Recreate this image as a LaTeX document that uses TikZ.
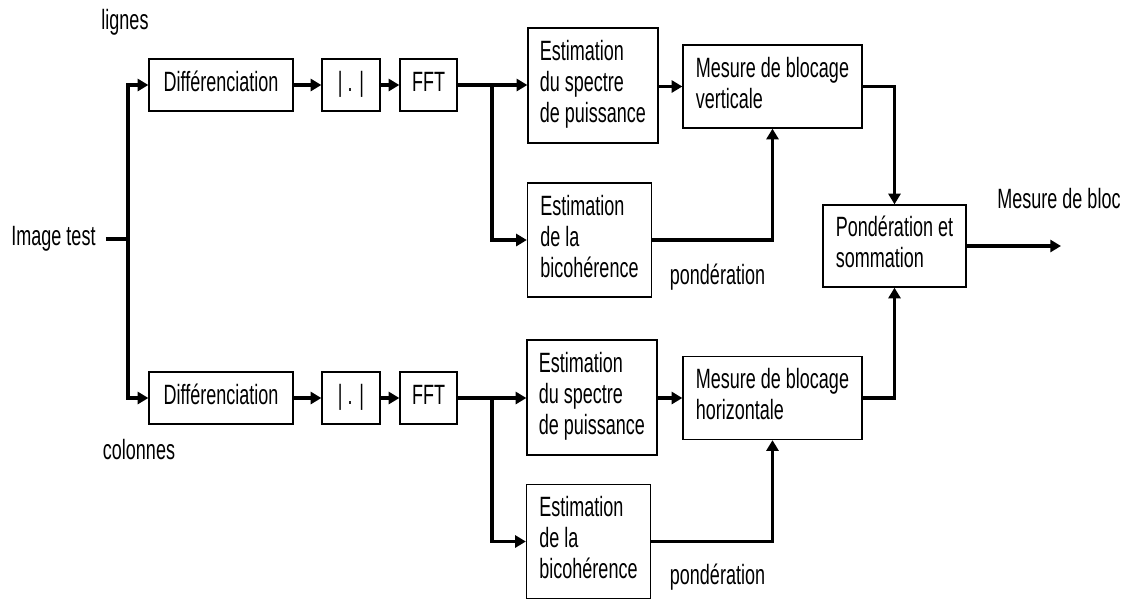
\documentclass[tikz,border=0pt]{standalone}
\usepackage{fontspec}
\setmainfont{Liberation Sans}
\usepackage{graphicx}
\usetikzlibrary{arrows.meta}
\newcommand\tb[1]{\scalebox{1}[1.55]{\begin{tabular}{@{}l@{}}#1\end{tabular}}}
\begin{document}
\begin{tikzpicture}[x=0.75pt,y=-0.75pt,
  every node/.style={font=\fontsize{13.5pt}{15pt}\selectfont, inner sep=0pt},
  blk/.style={draw, line width=1pt, fill=white},
  dbox/.style={blk, minimum width=108pt, minimum height=39pt},
  abox/.style={blk, minimum width=43.5pt, minimum height=39pt},
  fbox/.style={blk, minimum width=42.75pt, minimum height=39pt},
  esbox/.style={blk, minimum width=97.5pt, minimum height=86.25pt},
  mbox/.style={blk, minimum width=134.25pt, minimum height=62.25pt},
  bcbox/.style={blk, minimum width=93pt, minimum height=85.5pt},
  pbox/.style={blk, minimum width=107.25pt, minimum height=61.5pt},
  conn/.style={line width=2.4pt},
  arr/.style={conn, -{Triangle[length=8pt,width=9pt]}},
  lbl/.style={}
]
\useasboundingbox (0,0) rectangle (1132,601);

% labels
\node[lbl] (lig) at (125,23) {\tb{lignes}};
\node[lbl] (col) at (139,453) {\tb{colonnes}};
\node[lbl] (img) at (53.5,239) {\tb{Image test}};
\node[lbl] (pd1) at (717.5,278) {\tb{pondération}};
\node[lbl] (pd2) at (717.5,578) {\tb{pondération}};
\node[lbl] (mb) at (1059,202) {\tb{Mesure de bloc}};

% top branch
\node[dbox] (d1) at (221,85) {\tb{Différenciation}};
\node[abox] (a1) at (351,85) {\tb{| . |}};
\node[fbox] (f1) at (428.5,85) {\tb{FFT}};
\node[esbox] (es1) at (593,85.5) {\tb{Estimation\\du spectre\\de puissance}};
\node[mbox] (mv) at (772.5,86.5) {\raisebox{-3.5pt}{\tb{Mesure de blocage\\verticale}}};
\node[bcbox] (bc1) at (589.5,240) {\tb{Estimation\\de la\\bicohérence}};

% bottom branch
\node[dbox] (d2) at (221,398) {\tb{Différenciation}};
\node[abox] (a2) at (351,398) {\tb{| . |}};
\node[fbox] (f2) at (428.5,398) {\tb{FFT}};
\node[esbox] (es2) at (592,397.5) {\tb{Estimation\\du spectre\\de puissance}};
\node[mbox] (mh) at (772.5,398) {\raisebox{-3.5pt}{\tb{Mesure de blocage\\horizontale}}};
\node[bcbox] (bc2) at (588.5,541.5) {\tb{Estimation\\de la\\bicohérence}};

% combination
\node[pbox] (pond) at (894.5,246) {\raisebox{-1.5pt}{\tb{Pondération et\\sommation}}};

\coordinate (jn) at (128,239);
\coordinate (b1) at (492,85);
\coordinate (b2) at (492,398);
\coordinate (out) at (1061,246);

% connectors
\draw[conn] ([xshift=7.5pt]img.east) -- (jn);
\draw[arr] (jn) |- (d1.west);
\draw[arr] (jn) |- (d2.west);

\draw[arr] (d1.east) -- (a1.west);
\draw[arr] (a1.east) -- (f1.west);
\draw[arr] (f1.east) -- (es1.west |- f1.east);
\draw[arr] (b1) |- (bc1.west);
\draw[arr] (es1.east |- mv.west) -- (mv.west);
\draw[arr] (bc1.east) -| (mv.south);
\draw[arr] (mv.east) -| (pond.north);

\draw[arr] (d2.east) -- (a2.west);
\draw[arr] (a2.east) -- (f2.west);
\draw[arr] (f2.east) -- (es2.west |- f2.east);
\draw[arr] (b2) |- (bc2.west);
\draw[arr] (es2.east |- mh.west) -- (mh.west);
\draw[arr] (bc2.east) -| (mh.south);
\draw[arr] (mh.east) -| (pond.south);

\draw[arr] (pond.east) -- (out);
\end{tikzpicture}
\end{document}
